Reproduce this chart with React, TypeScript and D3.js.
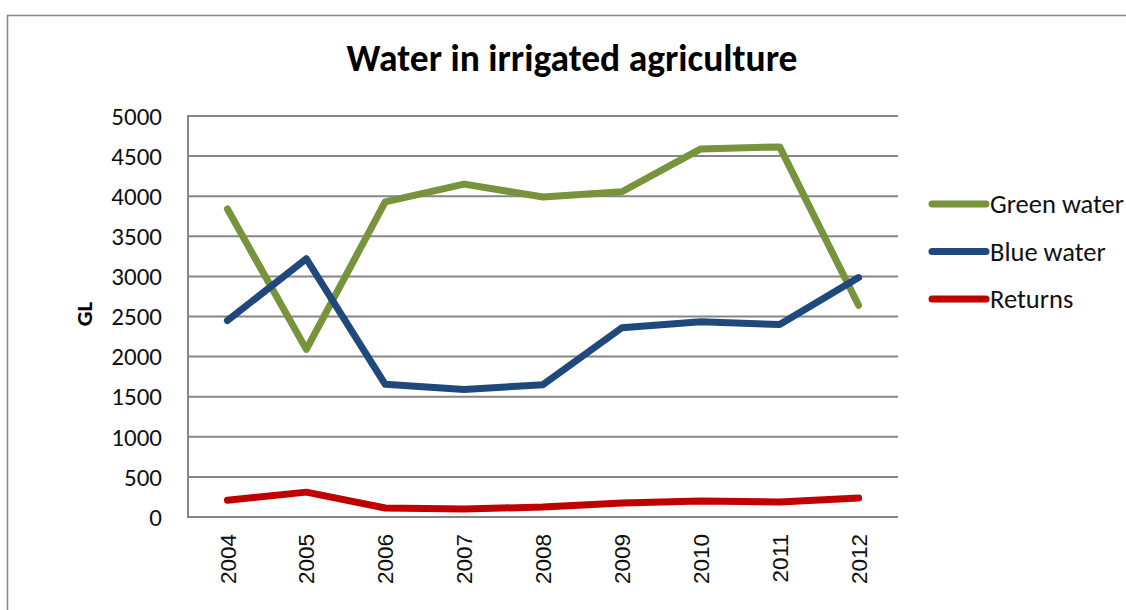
import { useEffect, useRef } from "react";
import * as d3 from "d3";

const years = ["2004", "2005", "2006", "2007", "2008", "2009", "2010", "2011", "2012"];
const greenWater = [3840, 2090, 3930, 4150, 3990, 4055, 4590, 4615, 2640];
const blueWater = [2450, 3220, 1655, 1590, 1650, 2360, 2435, 2400, 2985];
const returns = [210, 310, 112, 100, 124, 174, 199, 187, 236];
const yTicks = [0, 500, 1000, 1500, 2000, 2500, 3000, 3500, 4000, 4500, 5000];
const seriesNames = ["Green water", "Blue water", "Returns"];
const seriesColors = ["#77933C", "#1F497D", "#C00000"];

function App() {
  const svgRef = useRef<SVGSVGElement>(null);
  const width = 1126;
  const height = 610;

  useEffect(() => {
    const svg = d3.select(svgRef.current);
    svg.selectAll("*").remove();

    const left = 188, right = 898, top = 116, bottom = 517;
    const calibri = "Carlito, Lato, 'Open Sans', sans-serif";

    // chart frame
    svg.append("rect")
      .attr("x", 7.5).attr("y", 15.5)
      .attr("width", 1130).attr("height", 610)
      .attr("fill", "white").attr("stroke", "#888").attr("stroke-width", 1.5);

    const x = d3.scalePoint().domain(years).range([left, right]).padding(0.5);
    const y = d3.scaleLinear().domain([0, 5000]).range([bottom, top]);

    svg.append("g")
      .selectAll("line")
      .data(yTicks)
      .join("line")
      .attr("x1", left).attr("x2", right)
      .attr("y1", (d) => y(d)).attr("y2", (d) => y(d))
      .attr("stroke", "#868686").attr("stroke-width", 2);

    svg.append("line")
      .attr("x1", left).attr("x2", left).attr("y1", top - 1).attr("y2", bottom + 1)
      .attr("stroke", "#868686").attr("stroke-width", 2);

    svg.append("g")
      .selectAll("text")
      .data(yTicks)
      .join("text")
      .attr("x", 162).attr("y", (d) => y(d))
      .attr("dy", "0.35em")
      .attr("text-anchor", "end")
      .attr("font-family", calibri).attr("font-size", 25)
      .attr("fill", "#111")
      .text((d) => d);

    svg.append("g")
      .selectAll("text")
      .data(years)
      .join("text")
      .attr("transform", (d) => `translate(${x(d)},534) rotate(-90)`)
      .attr("dy", "0.36em")
      .attr("text-anchor", "end")
      .attr("font-family", "'Liberation Sans', Arial, sans-serif").attr("font-size", 22.5)
      .attr("fill", "#111")
      .text((d) => d);

    svg.append("text")
      .attr("transform", "translate(92,314) rotate(-90)")
      .attr("text-anchor", "middle")
      .attr("font-family", calibri).attr("font-size", 23).attr("font-weight", "bold")
      .text("GL");

    svg.append("text")
      .attr("x", 572).attr("y", 71)
      .attr("text-anchor", "middle")
      .attr("font-family", calibri).attr("font-size", 37.5).attr("font-weight", "bold")
      .text("Water in irrigated agriculture");

    const line = d3.line<number>()
      .x((_, i) => x(years[i])!)
      .y((d) => y(d));

    const allSeries = [greenWater, blueWater, returns];
    svg.append("g")
      .selectAll("path")
      .data(allSeries)
      .join("path")
      .attr("d", (d) => line(d))
      .attr("fill", "none")
      .attr("stroke", (_, i) => seriesColors[i])
      .attr("stroke-width", 7)
      .attr("stroke-linejoin", "round")
      .attr("stroke-linecap", "round");

    const legend = svg.append("g")
      .selectAll("g")
      .data(seriesNames)
      .join("g")
      .attr("transform", (_, i) => `translate(932,${204 + i * 47.5})`);
    legend.append("line")
      .attr("x1", 0).attr("x2", 54).attr("y1", 0).attr("y2", 0)
      .attr("stroke", (_, i) => seriesColors[i])
      .attr("stroke-width", 7).attr("stroke-linecap", "round");
    legend.append("text")
      .attr("x", 58).attr("dy", "0.35em")
      .attr("font-family", calibri).attr("font-size", 26.5)
      .attr("fill", "#111")
      .text((d) => d);
  }, []);

  return (
    <svg ref={svgRef} width={width} height={height}
      style={{ position: "absolute", left: 0, top: 0 }} />
  );
}

export default App;
